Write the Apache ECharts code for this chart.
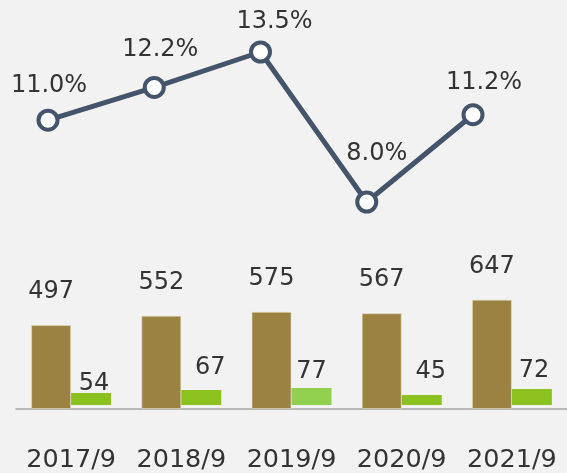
<!DOCTYPE html>
<html>
<head>
<meta charset="utf-8">
<script src="https://cdn.jsdelivr.net/npm/echarts@6/dist/echarts.min.js"></script>
<style>
  html, body { margin: 0; padding: 0; background: #F2F2F2; }
  #chart { width: 567px; height: 473px; }
</style>
</head>
<body>
<div id="chart"></div>
<script>
const categories = ["2017/9", "2018/9", "2019/9", "2020/9", "2021/9"];
const brownValues = [497, 552, 575, 567, 647];
const greenValues = [54, 67, 77, 45, 72];
const rateValues = [11.0, 12.2, 13.5, 8.0, 11.2];

// label nudges, roughly where the labels sit in the original
const rateLabelNudge = [[1, -2], [6, -5], [14, 2], [10, -16], [11, 1]];
const greenLabelNudge = [[3, 9], [9, -4], [0, 2], [9, -5], [2, 0]];
const highlightIdx = 2;

const FONT = "DejaVu Sans";
const TEXT = "#333333";
const LINE = "#44546A";

const chart = echarts.init(document.getElementById("chart"));

const option = {
  backgroundColor: "#F2F2F2",
  animation: false,
  textStyle: { fontFamily: FONT },
  grid: [
    { left: 16, right: -5, top: 240, height: 169 },
    { left: 48, right: 94, top: 52, height: 150 },
  ],
  xAxis: [
    {
      type: "category",
      gridIndex: 0,
      data: categories,
      axisTick: { show: false },
      axisLine: { lineStyle: { color: "#A6A6A6", width: 1.5 } },
      axisLabel: {
        interval: 0, hideOverlap: false,
        color: TEXT, fontSize: 25.5, fontFamily: FONT, margin: 38, lineHeight: 26,
      },
    },
    {
      type: "category",
      gridIndex: 1,
      data: categories,
      boundaryGap: false,
      show: false,
    },
  ],
  yAxis: [
    { type: "value", gridIndex: 0, min: 0, max: 1000, show: false },
    { type: "value", gridIndex: 0, min: -18, max: 743, show: false },
    { type: "value", gridIndex: 1, min: 8, max: 13.5, show: false },
  ],
  series: [
    {
      type: "bar",
      xAxisIndex: 0,
      yAxisIndex: 0,
      data: brownValues,
      barWidth: 40,
      barGap: "0%",
      itemStyle: { color: "#9C8242", borderColor: "rgba(230,220,190,0.6)", borderWidth: 1 },
      label: {
        show: true, position: "top", distance: 21,
        color: TEXT, fontSize: 24, fontFamily: FONT, lineHeight: 24,
      },
    },
    {
      type: "bar",
      xAxisIndex: 0,
      yAxisIndex: 1,
      barWidth: 40,
      barGap: "0%",
      data: greenValues.map((v, i) => ({
        value: v,
        itemStyle: i === highlightIdx ? { color: "#92D050" } : undefined,
        label: { offset: greenLabelNudge[i] },
      })),
      itemStyle: { color: "#8CC21F" },
      label: {
        show: true, position: "top", distance: 6,
        color: TEXT, fontSize: 24, fontFamily: FONT, lineHeight: 24,
      },
    },
    {
      type: "line",
      xAxisIndex: 1,
      yAxisIndex: 2,
      data: rateValues.map((v, i) => ({
        value: v,
        label: { offset: rateLabelNudge[i] },
      })),
      symbol: "circle",
      symbolSize: 19,
      lineStyle: { color: LINE, width: 5 },
      itemStyle: { color: "#FFFFFF", borderColor: LINE, borderWidth: 4 },
      label: {
        show: true, position: "top", distance: 9,
        color: TEXT, fontSize: 24, fontFamily: FONT, lineHeight: 24,
        formatter: (p) => p.value.toFixed(1) + "%",
      },
      z: 5,
    },
  ],
};

chart.setOption(option);
</script>
</body>
</html>
